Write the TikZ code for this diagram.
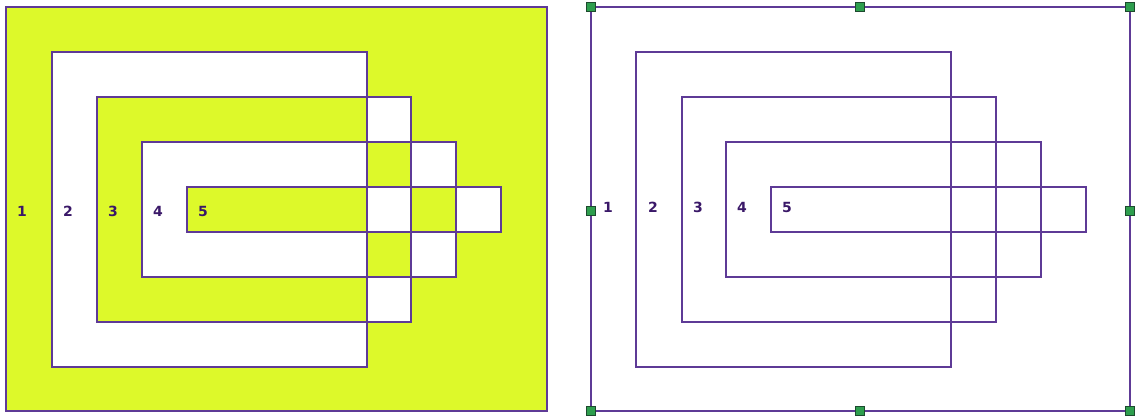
\documentclass[tikz,border=0pt]{standalone}
\usepackage{fontspec}
\setmainfont{DejaVu Sans}
\definecolor{fillc}{HTML}{DDF92A}
\definecolor{linec}{HTML}{5E3A96}
\definecolor{txtc}{HTML}{3A1868}
\definecolor{handc}{HTML}{2E9E4E}
\definecolor{handb}{HTML}{1D4A2E}
\begin{document}
\begin{tikzpicture}[x=1pt,y=-1pt,
  box/.style={draw=linec,line width=1.5pt},
  lbl/.style={text=txtc,font=\bfseries\fontsize{14}{16}\selectfont,inner sep=0pt},
  handle/.style={fill=handc,draw=handb,line width=0.9pt,minimum size=9pt,inner sep=0pt}]
\useasboundingbox (0,0) rectangle (1135,418);
% left panel
\fill[fillc,even odd rule] (6,7) rectangle (547,411)
  (52,52) rectangle (367,367)
  (97,97) rectangle (411,322)
  (142,142) rectangle (456,277)
  (187,187) rectangle (501,232);
\draw[box] (6,7) rectangle (547,411);
\draw[box] (52,52) rectangle (367,367);
\draw[box] (97,97) rectangle (411,322);
\draw[box] (142,142) rectangle (456,277);
\draw[box] (187,187) rectangle (501,232);
\node[lbl] (l1) at (22,211) {1};
\node[lbl] (l2) at (68,211) {2};
\node[lbl] (l3) at (113,211) {3};
\node[lbl] (l4) at (158,211) {4};
\node[lbl] (l5) at (203,211) {5};
% right panel
\draw[box] (591,7) rectangle (1130,411);
\draw[box] (636,52) rectangle (951,367);
\draw[box] (682,97) rectangle (996,322);
\draw[box] (726,142) rectangle (1041,277);
\draw[box] (771,187) rectangle (1086,232);
\node[lbl] (r1) at (608,207) {1};
\node[lbl] (r2) at (653,207) {2};
\node[lbl] (r3) at (698,207) {3};
\node[lbl] (r4) at (742,207) {4};
\node[lbl] (r5) at (787,207) {5};
\foreach \x/\y/\n in {591/7/a,860/7/b,1130/7/c,591/211/d,1130/211/e,591/411/f,860/411/g,1130/411/h}
  \node[handle] (h\n) at (\x,\y) {};
\end{tikzpicture}
\end{document}
